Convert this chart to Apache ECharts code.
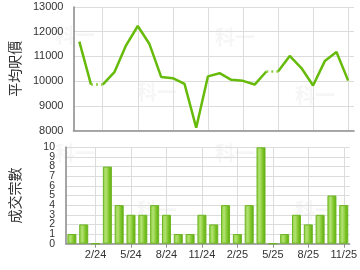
<!DOCTYPE html>
<html>
<head>
<meta charset="utf-8">
<script src="https://cdn.jsdelivr.net/npm/echarts@6/dist/echarts.min.js"></script>
<style>html,body{margin:0;padding:0;background:#fff}#c{width:360px;height:270px}</style>
</head>
<body>
<div id="c"></div>
<script>
var months = ['12/23','1/24','2/24','3/24','4/24','5/24','6/24','7/24','8/24','9/24','10/24','11/24','12/24','1/25','2/25','3/25','4/25','5/25','6/25','7/25','8/25','9/25','10/25','11/25'];
var avgPrice = [11600,9860,9860,10360,11450,12230,11500,10170,10120,9890,8110,10190,10320,10050,10010,9860,10390,10390,11020,10530,9820,10810,11180,10020];
var deals = [1,2,0,8,4,3,3,4,3,1,1,3,2,4,1,4,10,0,1,3,2,3,5,4];
var priceTicks = [8000,13000,1000];
var dealTicks = [0,10,1];
var dealTickLabels = ['0','1','2','3','4','5','6','7','8','9','10'];
var priceTitle = '平均呎價';
var dealTitle = '成交宗數';
var watermark = '科一';

// split line into solid runs and dotted links (month with no deals)
var n = months.length;
var solidA = [], solidB = [], dotted = [];
for (var i = 0; i < n; i++) { solidA.push(null); solidB.push(null); dotted.push(null); }
var run = 0;
for (var i = 0; i < n; i++) {
  if (i > 0 && deals[i] === 0) {
    dotted[i-1] = avgPrice[i-1]; dotted[i] = avgPrice[i];
    run++;
  }
  (run % 2 === 0 ? solidA : solidB)[i] = avgPrice[i];
}
var showIdx = function (idx) { return idx % 3 === 2; };
var gridColor = '#dcdcdc';
var axisColor = '#8f8f8f';
var lineColor = '#66bb0a';
var font = 'Liberation Sans';

var wm = [[55,25],[137,82],[215,27],[295,85],[55,143],[137,200],[215,143],[295,200]].map(function (p) {
  return { type: 'text', left: p[0], top: p[1], z: -1, silent: true,
    style: { text: watermark, fill: '#f6f6f6', font: 'bold 20px "Noto Sans CJK TC"' } };
});

var chart = echarts.init(document.getElementById('c'));
chart.setOption({
  animation: false,
  graphic: wm,
  grid: [
    { left: 65, right: 6, top: 7, height: 123.5 },
    { left: 65, right: 6, top: 147.3, height: 96.4 }
  ],
  xAxis: [
    { type: 'category', gridIndex: 0, data: months, boundaryGap: true,
      axisLine: { lineStyle: { color: axisColor, width: 1.6 } },
      axisTick: { show: false }, axisLabel: { show: false },
      splitLine: { show: true, interval: showIdx, alignWithLabel: true, lineStyle: { color: gridColor } } },
    { type: 'category', gridIndex: 1, data: months, boundaryGap: true,
      axisLine: { lineStyle: { color: axisColor, width: 1.6 } },
      axisTick: { show: true, interval: showIdx, alignWithLabel: true, length: 4, lineStyle: { color: axisColor } },
      axisLabel: { interval: showIdx, color: '#333', fontSize: 11, fontFamily: font, margin: 6 },
      splitLine: { show: true, interval: showIdx, alignWithLabel: true, lineStyle: { color: gridColor } } }
  ],
  yAxis: [
    { type: 'value', gridIndex: 0, min: priceTicks[0], max: priceTicks[1], interval: priceTicks[2],
      name: priceTitle, nameLocation: 'middle', nameGap: 44, nameRotate: 90,
      nameTextStyle: { color: '#333', fontSize: 14, fontFamily: 'Noto Sans CJK TC' },
      axisLine: { show: true, lineStyle: { color: axisColor, width: 1.6 } }, axisTick: { show: false },
      axisLabel: { color: '#333', fontSize: 11, fontFamily: font, margin: 10,
        formatter: function (v) { return String(v); } },
      splitLine: { lineStyle: { color: gridColor } } },
    { type: 'value', gridIndex: 1, position: 'left', min: dealTicks[0], max: dealTicks[1], interval: dealTicks[2],
      name: dealTitle, nameLocation: 'middle', nameGap: 44, nameRotate: 90,
      nameTextStyle: { color: '#333', fontSize: 14, fontFamily: 'Noto Sans CJK TC' },
      axisLine: { show: true, lineStyle: { color: axisColor, width: 1.6 } }, axisTick: { show: false },
      axisLabel: { show: false },
      splitLine: { lineStyle: { color: gridColor } } },
    { type: 'category', gridIndex: 1, position: 'left', data: dealTickLabels, boundaryGap: false,
      axisLine: { show: false }, axisTick: { show: false }, splitLine: { show: false },
      axisLabel: { interval: 0, color: '#333', fontSize: 10.5, fontFamily: font, margin: 11 } }
  ],
  series: [
    { type: 'line', xAxisIndex: 0, yAxisIndex: 0, data: solidA, showSymbol: false, connectNulls: false,
      lineStyle: { color: lineColor, width: 2.5 }, itemStyle: { color: lineColor } },
    { type: 'line', xAxisIndex: 0, yAxisIndex: 0, data: solidB, showSymbol: false, connectNulls: false,
      lineStyle: { color: lineColor, width: 2.5 }, itemStyle: { color: lineColor } },
    { type: 'line', xAxisIndex: 0, yAxisIndex: 0, data: dotted, showSymbol: false, connectNulls: false,
      lineStyle: { color: '#8fd044', width: 2.5, type: [2, 3] }, itemStyle: { color: lineColor } },
    { type: 'bar', xAxisIndex: 1, yAxisIndex: 1, data: deals, barWidth: 9,
      itemStyle: {
        borderColor: '#6cb521', borderWidth: 1,
        color: new echarts.graphic.LinearGradient(0, 0, 1, 0, [
          { offset: 0, color: '#8fcf3f' },
          { offset: 0.35, color: '#b2e272' },
          { offset: 0.7, color: '#7cc426' },
          { offset: 1, color: '#5ea912' }
        ])
      } }
  ]
});
</script>
</body>
</html>
